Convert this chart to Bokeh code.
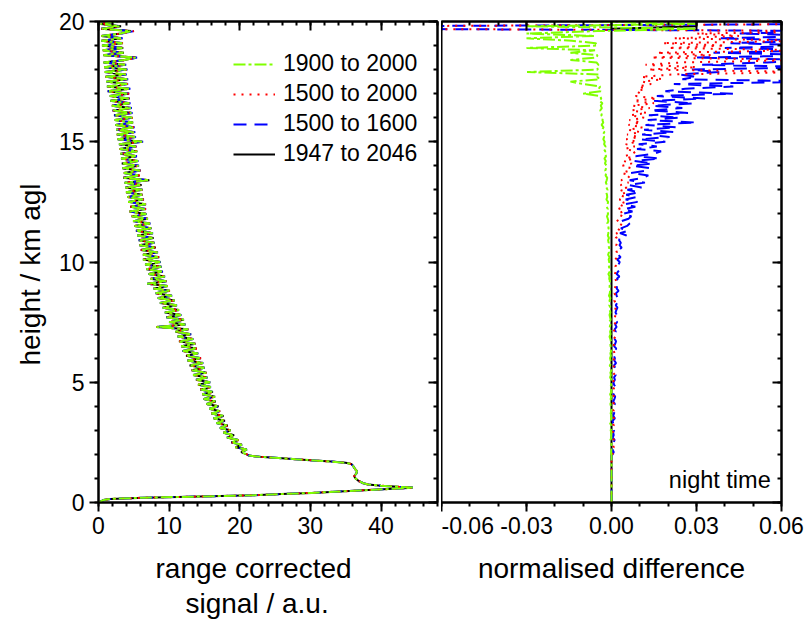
import numpy as np
from bokeh.plotting import figure
from bokeh.models import (Range1d, LinearAxis, SingleIntervalTicker, NumeralTickFormatter,
                          Legend, LegendItem, Label, Title, CustomLabelingPolicy)
from bokeh.layouts import row
from bokeh.embed import file_html
from bokeh.resources import INLINE

# ---------------- data ----------------
low_heights_km = [0.0, 0.05, 0.1, 0.15, 0.2, 0.25, 0.3, 0.35, 0.4, 0.45, 0.5, 0.55, 0.6, 0.62, 0.65,
                  0.7, 0.75, 0.8, 0.9, 1.0, 1.1, 1.2, 1.3, 1.4, 1.5, 1.6, 1.65, 1.7, 1.75, 1.8,
                  1.85, 1.9, 1.95]
low_signal = [0.0, 0.3, 0.7, 1.7, 6.5, 14.4, 21.8, 25.9, 30.2, 33.5, 36.9, 40.3, 43.8, 44.5, 42.5,
              40.0, 38.2, 37.5, 36.8, 36.4, 36.2, 36.5, 36.6, 36.3, 36.1, 35.8, 35.0, 33.0, 30.5, 27.9,
              25.5, 22.8, 21.3]

# sampling grid of the upper profile: 2.0 ... 20.0 km every 0.1 km
upper_heights_km = [round(2.0 + 0.1 * i, 1) for i in range(181)]

upper_signal = [
    21.0, 20.2, 21.0, 19.4, 20.3, 18.8, 19.8, 18.2, 19.2, 17.7,
    18.7, 17.2, 18.3, 16.7, 17.9, 16.3, 17.7, 16.0, 17.2, 15.7,
    17.0, 15.3, 16.6, 14.9, 16.5, 14.7, 16.2, 14.4, 15.9, 14.1,
    15.8, 13.8, 15.4, 13.4, 15.3, 13.2, 15.0, 12.9, 14.8, 12.6,
    14.5, 12.4, 14.1, 11.9, 13.9, 11.7, 13.7, 11.4, 13.4, 11.2,
    13.1, 10.9, 12.7, 8.2, 12.3, 10.0, 12.1, 9.6, 11.7, 9.4,
    11.4, 9.1, 11.1, 8.7, 10.8, 8.4, 10.4, 8.1, 10.1, 7.8,
    9.8, 6.9, 9.6, 7.4, 9.4, 7.1, 9.1, 6.8, 8.9, 6.6,
    8.8, 6.3, 8.6, 6.3, 8.4, 6.0, 8.1, 5.8, 7.9, 5.7,
    7.8, 5.5, 7.7, 5.3, 7.5, 5.1, 7.3, 4.9, 7.0, 4.7,
    6.8, 4.4, 6.7, 4.5, 6.7, 4.2, 6.4, 4.1, 6.2, 3.9,
    6.2, 3.8, 6.1, 3.7, 7.2, 3.5, 5.8, 3.6, 5.9, 3.4,
    5.7, 3.3, 5.6, 3.2, 5.4, 3.1, 5.5, 3.0, 5.3, 2.9,
    6.2, 2.7, 5.2, 2.6, 5.1, 2.5, 5.0, 2.4, 4.9, 2.3,
    4.8, 2.2, 4.7, 2.0, 4.6, 1.9, 4.4, 1.7, 4.3, 1.6,
    4.3, 1.3, 4.4, 1.2, 4.1, 1.1, 4.1, 1.0, 3.9, 0.9,
    4.0, 0.8, 3.8, 0.7, 3.7, 5.3, 0.7, 3.6, 0.6, 3.5,
    0.5, 3.4, 0.4, 3.3, 0.4, 3.2, 4.6, 0.4, 3.1, 0.3,
    2.6,
]

# normalised differences (in units of 1e-3) on the upper grid
green_diff_permille = [
    0.0, -0.2, 0.0, -0.3, 0.0, -0.1, -0.4, 0.0, -0.2, 0.0,
    -0.3, 0.0, -0.1, -0.5, 0.0, -0.2, 0.0, -0.3, -0.1, 0.0,
    -0.2, -0.4, 0.0, -0.3, -0.1, -0.5, 0.0, -0.2, -0.4, -0.1,
    -0.3, 0.0, -0.5, -0.2, -0.4, 0.0, -0.3, -0.6, -0.1, -0.3,
    -0.5, -0.2, -0.4, -0.1, -0.6, -0.3, -0.5, -0.2, -0.4, -0.7,
    -0.3, -0.5, -0.2, -0.6, -0.4, -0.8, -0.3, -0.5, -0.7, -0.4,
    -0.6, -0.3, -0.8, -0.5, -0.7, -0.4, -0.9, -0.6, -0.5, -0.8,
    -0.6, -1.0, -0.5, -0.8, -0.7, -1.1, -0.6, -0.9, -0.8, -1.2,
    -0.8, -1.0, -0.7, -1.2, -0.9, -1.1, -0.8, -1.3, -1.0, -1.2,
    -0.9, -1.3, -1.1, -1.4, -1.0, -1.2, -1.5, -1.1, -1.3, -1.6,
    -1.2, -1.5, -1.3, -1.7, -1.4, -1.2, -1.8, -1.5, -1.6, -1.9,
    -1.4, -1.8, -1.6, -2.0, -1.7, -1.5, -2.1, -1.8, -2.2, -1.9,
    -1.7, -2.3, -2.0, -2.5, -1.9, -2.4, -2.2, -2.7, -2.1, -2.6,
    -2.4, -2.9, -2.6, -3.1, -2.5, -3.3, -2.8, -3.5, -2.9, -3.2,
    -3.0, -3.6, -3.3, -4.0, -3.4, -3.8, -3.2, -4.3, -3.6, -4.1,
    -10.0, -3.8, -4.5, -4.0, -10.0, -14.5, -4.2, -5.0, -4.4, -29.8,
    -4.8, -5.2, -4.6, -5.3, -14.5, -5.5, -4.9, -14.5, -5.8, -30.0,
    -5.0, -5.6, -14.0, -30.0, -6.0, -30.0, -5.0, 30.0, -30.0, 30.0,
    -5.0,
]
red_diff_permille = [
    0.3, 0.6, 0.2, 0.8, 0.4, 0.5, 0.9, 0.3, 0.6, 0.4,
    0.7, 0.3, 0.8, 0.5, 0.2, 0.9, 0.4, 0.6, 0.8, 0.3,
    0.6, 0.9, 0.4, 0.7, 1.0, 0.5, 0.8, 0.6, 1.1, 0.7,
    0.5, 0.9, 0.7, 1.2, 0.6, 0.8, 1.0, 0.7, 1.3, 0.8,
    0.9, 0.6, 1.1, 0.8, 1.3, 0.7, 1.0, 1.2, 0.8, 1.4,
    0.9, 1.1, 0.8, 1.3, 1.0, 1.5, 0.9, 1.2, 1.4, 1.0,
    1.2, 1.5, 1.1, 1.4, 1.0, 1.6, 1.3, 1.1, 1.7, 1.2,
    1.4, 1.1, 1.7, 1.3, 1.8, 1.2, 1.5, 1.9, 1.4, 1.6,
    1.8, 1.3, 2.0, 1.5, 1.9, 1.6, 2.2, 1.7, 2.0, 1.6,
    1.5, 3.0, 1.7, 3.3, 1.9, 3.1, 3.6, 1.8, 3.2, 3.9,
    2.2, 4.0, 2.4, 4.5, 2.6, 4.9, 2.8, 4.6, 2.9, 5.3,
    3.0, 5.4, 3.2, 6.0, 3.4, 5.8, 6.6, 3.6, 6.3, 7.0,
    3.9, 7.2, 4.3, 7.8, 4.5, 7.4, 8.6, 4.7, 8.2, 5.0,
    9.0, 5.2, 9.6, 5.5, 10.2, 5.8, 11.0, 6.0, 10.4, 6.3,
    11.5, 6.6, 12.5, 7.0, 13.5, 7.4, 15.0, 7.8, 16.0, 8.5,
    10.2, 8.8, 12.0, 9.5, 14.0, 11.0, 18.0, 10.5, 22.0, 70.0,
    13.0, 30.0, 12.0, 25.0, 70.0, 14.0, 35.0, 16.0, 70.0, 20.0,
    40.0, 18.0, 70.0, 22.0, 45.0, 30.0, 90.0, -90.0, -90.0, 90.0,
    90.0,
]
blue_diff_permille = [
    0.4, 0.8, 0.3, 1.0, 0.5, 0.7, 1.1, 0.4, 0.8, 0.6,
    0.9, 0.5, 1.1, 0.6, 0.4, 1.2, 0.6, 0.9, 1.0, 0.5,
    0.8, 1.2, 0.6, 1.0, 1.3, 0.7, 1.1, 0.8, 1.4, 0.9,
    0.7, 1.2, 0.9, 1.5, 0.8, 1.1, 1.3, 0.9, 1.6, 1.0,
    1.2, 0.8, 1.4, 1.0, 1.7, 0.9, 1.3, 1.6, 1.1, 1.8,
    1.2, 1.5, 1.1, 1.8, 1.3, 2.0, 1.2, 1.6, 1.9, 1.4,
    1.7, 2.1, 1.5, 2.0, 1.4, 2.3, 1.8, 1.6, 2.5, 1.8,
    2.0, 1.6, 2.6, 1.9, 2.8, 1.8, 2.3, 3.0, 2.1, 2.5,
    2.9, 2.0, 3.2, 2.4, 3.1, 2.6, 3.6, 2.8, 3.3, 2.7,
    2.8, 5.3, 3.0, 5.9, 3.3, 5.5, 6.4, 3.6, 6.0, 7.0,
    4.0, 7.4, 4.3, 8.4, 4.6, 9.2, 5.0, 8.8, 5.2, 9.8,
    5.6, 10.6, 6.0, 11.8, 6.4, 11.0, 13.0, 6.8, 12.4, 13.6,
    7.4, 14.5, 8.0, 17.0, 8.5, 15.0, 17.5, 9.0, 16.0, 9.6,
    19.0, 10.0, 20.5, 10.8, 22.0, 11.5, 23.0, 12.0, 30.0, 12.8,
    24.0, 13.2, 27.0, 13.8, 25.0, 14.5, 29.0, 15.0, 33.0, 16.0,
    43.0, 19.0, 26.0, 43.0, 22.0, 75.0, 25.0, 30.0, 24.0, 38.0,
    28.0, 75.0, 32.0, 55.0, 75.0, 30.0, 75.0, 36.0, 75.0, 40.0,
    75.0, 42.0, 75.0, 38.0, 75.0, 45.0, 90.0, -90.0, -90.0, 90.0,
    90.0,
]
# reference series (1947 to 2046): zero except the topmost bins
black_diff_permille = [0.0] * 178 + [30.0, 30.0, 30.0]

series_labels = ["1900 to 2000", "1500 to 2000", "1500 to 1600", "1947 to 2046"]
series_colors = ["#80ff00", "#ff0000", "#0000ff", "#000000"]
series_dashes = ["12 3 3 3", "2 6", "13 8", "solid"]

# ---------------- assemble ----------------
heights = np.array(low_heights_km + upper_heights_km)
signal = np.array(low_signal + upper_signal)
n_low = len(low_heights_km)
diffs = {
    "1900 to 2000": np.array([0.0] * n_low + green_diff_permille) / 1000.0,
    "1500 to 2000": np.array([0.0] * n_low + red_diff_permille) / 1000.0,
    "1500 to 1600": np.array([0.0] * n_low + blue_diff_permille) / 1000.0,
    "1947 to 2046": np.array([0.0] * n_low + black_diff_permille) / 1000.0,
}

FONT = "Liberation Sans"
TICK_FS = "23px"
LABEL_FS = "28px"

yr = Range1d(0, 20)

p1 = figure(width=441, height=623, x_range=Range1d(0, 48), y_range=yr,
            output_backend="svg", toolbar_location=None,
            min_border_left=98, min_border_right=0, min_border_top=21, min_border_bottom=121)
p2 = figure(width=367, height=623, x_range=Range1d(-0.06, 0.06), y_range=yr,
            output_backend="svg", toolbar_location=None, y_axis_location=None,
            min_border_left=0, min_border_right=27, min_border_top=21, min_border_bottom=121)

for p in (p1, p2):
    p.grid.visible = False
    p.outline_line_color = "black"
    p.outline_line_width = 2
    p.background_fill_color = "white"
    p.border_fill_color = "white"

no_labels = CustomLabelingPolicy(code="for (const i of indices) { indices.unset(i) }\nreturn indices")


def style_axis(ax, labels=True, inward=False, major_len=9, minor_len=4):
    ax.axis_line_color = "black"
    ax.axis_line_width = 2
    ax.major_tick_line_color = "black"
    ax.minor_tick_line_color = "black"
    ax.major_tick_line_width = 2
    ax.minor_tick_line_width = 2
    if inward:
        ax.major_tick_in, ax.major_tick_out = major_len, 0
        ax.minor_tick_in, ax.minor_tick_out = minor_len, 0
    else:
        ax.major_tick_in, ax.major_tick_out = 0, major_len
        ax.minor_tick_in, ax.minor_tick_out = 0, minor_len
    if labels:
        ax.major_label_text_font = FONT
        ax.major_label_text_font_size = TICK_FS
        ax.major_label_text_color = "black"
        ax.major_label_standoff = 5
    else:
        ax.major_label_policy = no_labels
        ax.major_label_text_font_size = "1px"
        ax.major_label_standoff = 0


def title(text, side_offset, standoff, align="left"):
    return Title(text=text, align=align, offset=side_offset, standoff=standoff,
                 text_font=FONT, text_font_size=LABEL_FS, text_font_style="normal",
                 text_color="black")


# left panel axes
p1.xaxis.ticker = SingleIntervalTicker(interval=10, num_minor_ticks=5)
p1.yaxis.ticker = SingleIntervalTicker(interval=5, num_minor_ticks=5)
style_axis(p1.xaxis[0])
style_axis(p1.yaxis[0])
ax = LinearAxis(ticker=SingleIntervalTicker(interval=10, num_minor_ticks=5))
style_axis(ax, labels=False, inward=True)
p1.add_layout(ax, "above")
ax = LinearAxis(ticker=SingleIntervalTicker(interval=5, num_minor_ticks=5))
style_axis(ax, labels=False, inward=True)
p1.add_layout(ax, "right")

# axis titles of the left panel (placed as side titles so they can sit off-centre)
p1.add_layout(title("height / km agl", 137, 20), "left")
p1.add_layout(title("range corrected", 57, 28), "below")
p1.add_layout(title("signal / a.u.", 87, -24), "below")

# right panel axes
p2.xaxis.ticker = SingleIntervalTicker(interval=0.03, num_minor_ticks=3)
p2.xaxis.formatter = NumeralTickFormatter(format="0.00")
style_axis(p2.xaxis[0])
p2.xaxis.axis_label = "normalised difference"
p2.xaxis.axis_label_text_font = FONT
p2.xaxis.axis_label_text_font_size = LABEL_FS
p2.xaxis.axis_label_text_font_style = "normal"
p2.xaxis.axis_label_text_color = "black"
p2.xaxis.axis_label_standoff = 16
ax = LinearAxis(ticker=SingleIntervalTicker(interval=0.03, num_minor_ticks=3))
style_axis(ax, labels=False, inward=True)
p2.add_layout(ax, "above")
ax = LinearAxis(ticker=SingleIntervalTicker(interval=5, num_minor_ticks=5))
style_axis(ax, labels=False, inward=True)
p2.add_layout(ax, "right")

# lines: draw black, blue, red, green (green on top)
renderers = {}
for lab, col, dash in reversed(list(zip(series_labels, series_colors, series_dashes))):
    d = diffs[lab]
    renderers[lab] = p1.line(signal * (1.0 + d), heights, line_color=col, line_width=2,
                             line_dash=dash)
    p2.line(d, heights, line_color=col, line_width=2, line_dash=dash)

legend = Legend(items=[LegendItem(label=lab, renderers=[renderers[lab]]) for lab in series_labels],
                location=(135, 335), orientation="vertical",
                label_text_font=FONT, label_text_font_size="23px", label_text_color="black",
                glyph_width=42, glyph_height=26, label_height=26, spacing=3,
                label_standoff=8, padding=0, margin=0,
                border_line_alpha=0, background_fill_alpha=0)
p1.add_layout(legend)

p2.add_layout(Label(x=0.0562, y=0.95, text="night time", text_align="right",
                    text_baseline="alphabetic", text_font=FONT, text_font_size="23.5px",
                    text_color="black"))

layout = row(p1, p2)
open("out.html", "w").write(file_html(layout, INLINE))
